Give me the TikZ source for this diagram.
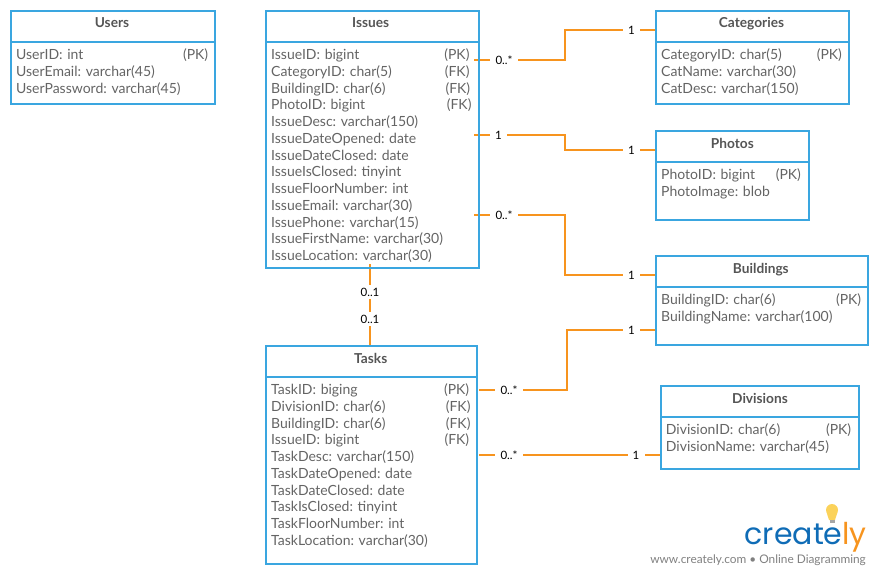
\documentclass[tikz,border=0pt]{standalone}
\usepackage{fontspec}
\setmainfont{Lato}
\newfontfamily\logofont{Poppins}
\usepackage{xcolor}
\usetikzlibrary{positioning}
\definecolor{entityblue}{RGB}{58,166,224}
\definecolor{relorange}{RGB}{247,148,30}
\definecolor{rowgray}{RGB}{100,100,100}
\definecolor{headgray}{RGB}{85,85,85}
\definecolor{logoblue}{RGB}{15,108,182}
\definecolor{bulbyellow}{RGB}{251,210,90}
\newcommand{\keyat}[2]{\hfill(#1)\rule{#2pt}{0pt}}
\tikzset{
    entityhead/.style={rectangle, draw=entityblue, line width=2.3pt, outer sep=0pt, inner sep=0pt, minimum height=31pt, anchor=north west, text height=13pt, text depth=10pt, text=headgray, font=\fontsize{13.7}{16}\selectfont\bfseries},
    entitybody/.style={rectangle, draw=entityblue, line width=2.3pt, outer sep=0pt, inner sep=0pt},
    entityrows/.style={anchor=north west, inner xsep=5pt, inner ysep=6.6pt, align=left, text=rowgray, font=\fontsize{14}{16.75}\selectfont\frenchspacing},
    relation/.style={draw=relorange, line width=2.2pt},
    card/.style={fill=white, inner sep=0pt, minimum height=14pt, text=black, font=\fontsize{11.5}{14}\selectfont},
    cardone/.style={card, minimum width=17pt},
    cardmany/.style={card, minimum width=28pt}
}
\begin{document}
\begin{tikzpicture}[x=1pt, y=-1pt]
    \useasboundingbox (0,0) rectangle (880,575);
    % Connector ends
    \coordinate (issuesCat) at (474,60);
    \coordinate (issuesPhoto) at (474,135);
    \coordinate (issuesBuild) at (474,215);
    \coordinate (issuesTask) at (370,264);
    \coordinate (tasksIssue) at (370,346);
    \coordinate (tasksBuild) at (479,390);
    \coordinate (tasksDiv) at (479,455);
    \coordinate (catIssue) at (656,30);
    \coordinate (photoIssue) at (656,150);
    \coordinate (buildIssue) at (656,275);
    \coordinate (buildTask) at (656,330);
    \coordinate (divTask) at (661,455);

    % Connections
    \draw[relation] (issuesCat) -- (565,60) |- (catIssue);
    \draw[relation] (issuesPhoto) -- (565,135) |- (photoIssue);
    \draw[relation] (issuesBuild) -- (565,215) |- (buildIssue);
    \draw[relation] (issuesTask) -- (tasksIssue);
    \draw[relation] (tasksBuild) -- (567,390) |- (buildTask);
    \draw[relation] (tasksDiv) -- (divTask);

    % Users
    \node[entityhead, minimum width=204pt] (usersHead) at (11,11) {Users\hspace*{2pt}};
    \node[entitybody, minimum width=204pt, minimum height=62pt, below=0pt of usersHead] (usersBody) {};
    \node[entityrows, text width=194pt] (usersRows) at (usersBody.north west) {UserID: int\keyat{PK}{2}\\UserEmail: varchar(45)\\UserPassword: varchar(45)};

    % Issues
    \node[entityhead, minimum width=212.7pt] (issuesHead) at (266,11) {Issues\hspace*{3.5pt}};
    \node[entitybody, minimum width=212.7pt, minimum height=225.7pt, below=0pt of issuesHead] (issuesBody) {};
    \node[entityrows, text width=202.7pt] (issuesRows) at (issuesBody.north west) {IssueID: bigint\keyat{PK}{4.4}\\CategoryID: char(5)\keyat{FK}{4.4}\\BuildingID: char(6)\keyat{FK}{3.7}\\PhotoID: bigint\keyat{FK}{2.4}\\IssueDesc: varchar(150)\\IssueDateOpened: date\\IssueDateClosed: date\\IssueIsClosed: tinyint\\IssueFloorNumber: int\\IssueEmail: varchar(30)\\IssuePhone: varchar(15)\\IssueFirstName: varchar(30)\\IssueLocation: varchar(30)};

    % Categories
    \node[entityhead, minimum width=193pt] (catHead) at (656,11) {Categories\hspace*{2pt}};
    \node[entitybody, minimum width=193pt, minimum height=62pt, below=0pt of catHead] (catBody) {};
    \node[entityrows, text width=183pt] (catRows) at (catBody.north west) {CategoryID: char(5)\keyat{PK}{2.3}\\CatName: varchar(30)\\CatDesc: varchar(150)};

    % Photos
    \node[entityhead, minimum width=152.7pt] (photoHead) at (656,131) {Photos};
    \node[entitybody, minimum width=152.7pt, minimum height=58pt, below=0pt of photoHead] (photoBody) {};
    \node[entityrows, text width=142.7pt] (photoRows) at (photoBody.north west) {PhotoID: bigint\keyat{PK}{3}\\PhotoImage: blob};

    % Buildings
    \node[entityhead, minimum width=211.7pt] (buildHead) at (656,256) {Buildings\hspace*{2pt}};
    \node[entitybody, minimum width=211.7pt, minimum height=58pt, below=0pt of buildHead] (buildBody) {};
    \node[entityrows, text width=201.7pt] (buildRows) at (buildBody.north west) {BuildingID: char(6)\keyat{PK}{1.7}\\BuildingName: varchar(100)};

    % Tasks
    \node[entityhead, minimum width=211pt] (tasksHead) at (266,346) {Tasks\hspace*{1.5pt}};
    \node[entitybody, minimum width=211pt, minimum height=187pt, below=0pt of tasksHead] (tasksBody) {};
    \node[entityrows, text width=201pt] (tasksRows) at (tasksBody.north west) {TaskID: biging\keyat{PK}{3}\\DivisionID: char(6)\keyat{FK}{1.7}\\BuildingID: char(6)\keyat{FK}{1.7}\\IssueID: bigint\keyat{FK}{3}\\TaskDesc: varchar(150)\\TaskDateOpened: date\\TaskDateClosed: date\\TaskIsClosed: tinyint\\TaskFloorNumber: int\\TaskLocation: varchar(30)};

    % Divisions
    \node[entityhead, minimum width=198.6pt] (divHead) at (660.7,386) {Divisions};
    \node[entitybody, minimum width=198.6pt, minimum height=52pt, below=0pt of divHead] (divBody) {};
    \node[entityrows, text width=188.6pt] (divRows) at (divBody.north west) {DivisionID: char(6)\keyat{PK}{3.3}\\DivisionName: varchar(45)};

    % Cardinalities
    \node[cardmany] (cardIssuesCat) at (504,60) {0..*};
    \node[cardone] (cardCatIssue) at (631.5,30) {1};
    \node[cardone] (cardIssuesPhoto) at (498.5,135) {1};
    \node[cardone] (cardPhotoIssue) at (631.5,150) {1};
    \node[cardmany] (cardIssuesBuild) at (504,215) {0..*};
    \node[cardone] (cardBuildIssue) at (631.5,275) {1};
    \node[card, minimum width=24pt] (cardIssuesTask) at (370,292) {0..1};
    \node[card, minimum width=24pt] (cardTasksIssue) at (370,319) {0..1};
    \node[cardmany] (cardTasksBuild) at (509,390) {0..*};
    \node[cardone] (cardBuildTask) at (631.5,330) {1};
    \node[cardmany] (cardTasksDiv) at (509,455) {0..*};
    \node[cardone] (cardDivTask) at (636,455) {1};

    % Logo
    \fill[bulbyellow] (832,510) circle (6pt);
    \fill[bulbyellow] (826.6,512.5) -- (837.4,512.5) -- (835,520) -- (829,520) -- cycle;
    \fill[gray!70] (829.5,520) rectangle (834.5,523);
    \node[anchor=base east, inner sep=0pt, font=\logofont\fontsize{30}{36}\selectfont] (logoText) at (867,544) {\textcolor{logoblue}{create}\textcolor{relorange}{ly}};
    \node[anchor=base east, inner sep=0pt, text=gray, font=\fontsize{11.85}{14}\selectfont] (logoLine) at (866,563) {www.creately.com • Online Diagramming};
\end{tikzpicture}
\end{document}
